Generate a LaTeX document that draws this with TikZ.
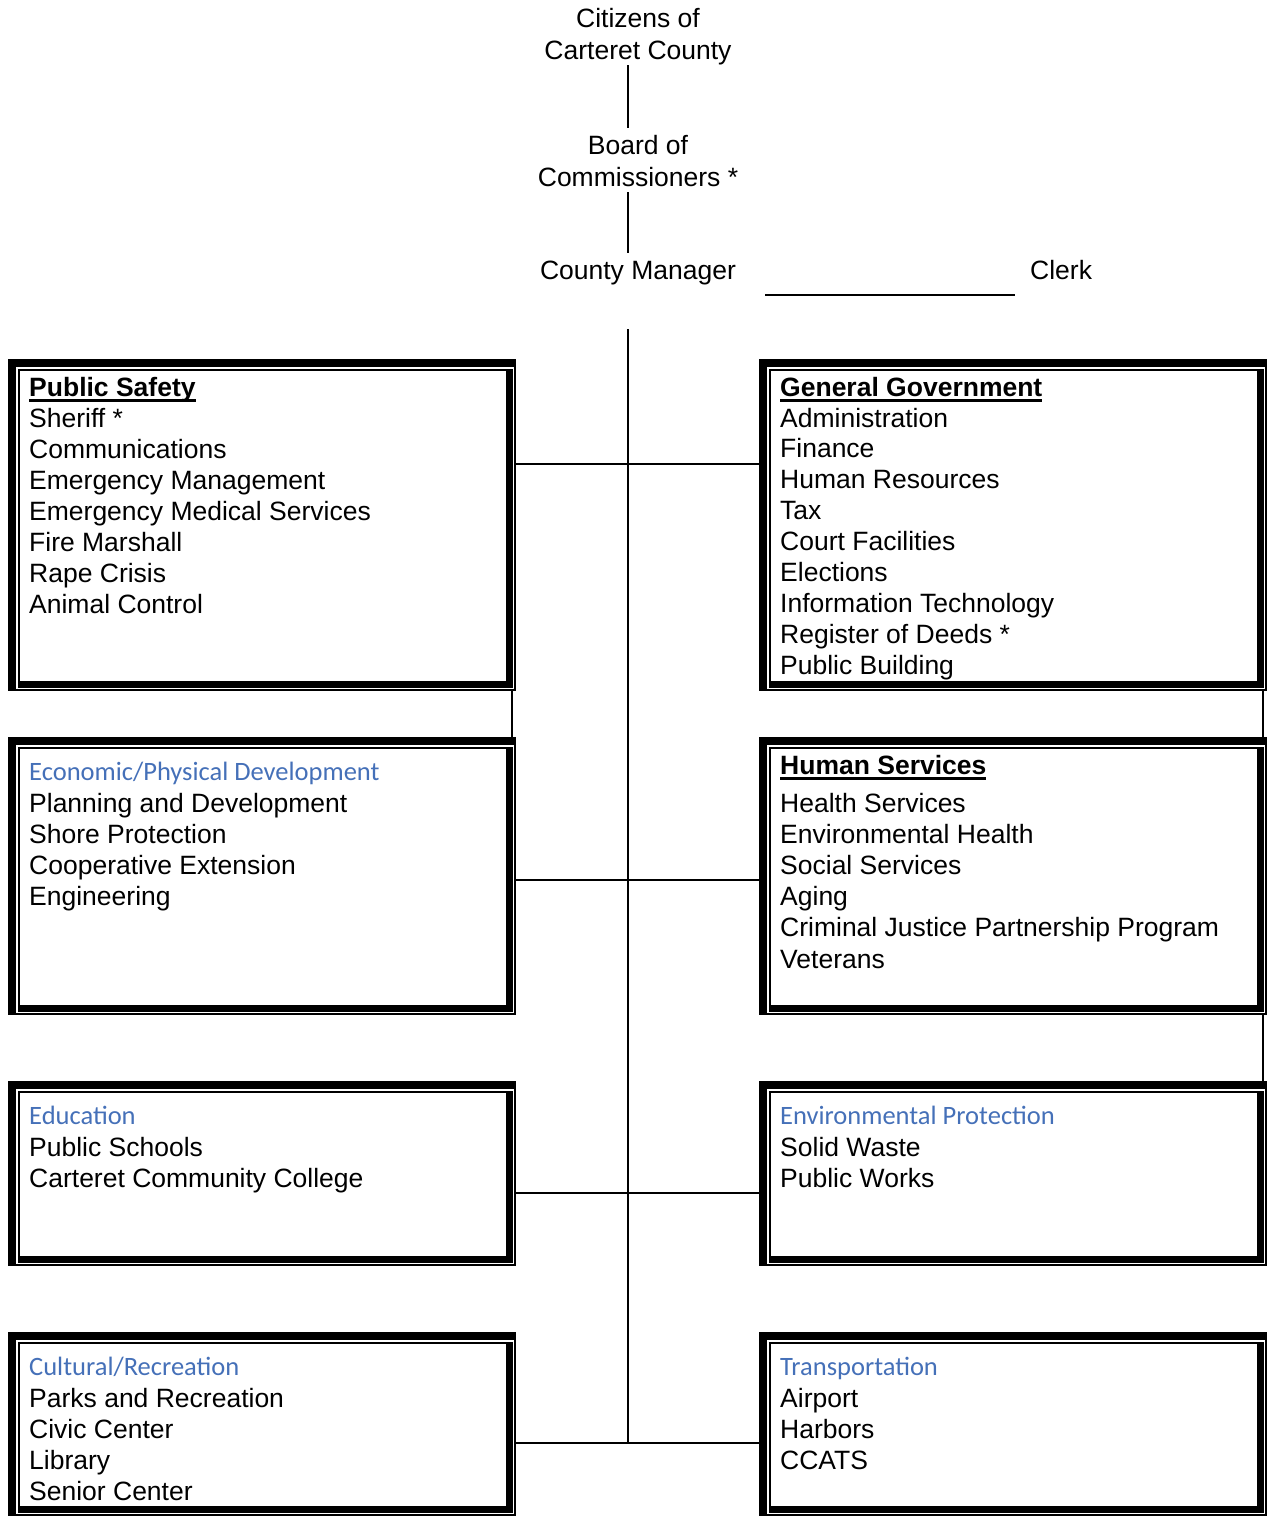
\documentclass[tikz,border=0pt]{standalone}
\usepackage{fontspec}
\setmainfont{Liberation Sans}
\newfontfamily\headfont{Carlito}
\definecolor{headblue}{HTML}{4570B8}
\newlength\ulwidth
\newcommand\ulbold[1]{\settowidth{\ulwidth}{\bfseries #1}\rlap{\rule[-6pt]{\ulwidth}{3pt}}{\bfseries #1}}
\newcommand\itemlines[4]{%
  \foreach \t [count=\i] in {#4}{%
    \node[itemtext] (#1-\i) at ([xshift=21pt,yshift={-(#2+(\i-1)*#3)}]#1.north west) {\t};
  }}
\tikzset{
  itemtext/.style={font=\fontsize{26.5}{31}\selectfont, inner sep=0pt, anchor=base west},
  headtext/.style={font=\headfont\fontsize{26.5}{31}\selectfont, text=headblue, inner sep=0pt, anchor=base west},
  toptext/.style={font=\fontsize{26.5}{31}\selectfont, inner sep=0pt, anchor=base, text height=19pt, text depth=6pt},
  link/.style={line width=2pt, black},
  orgbox/.style={rectangle, inner sep=0pt, minimum width=508pt, minimum height=#1, anchor=north west,
    path picture={
      \fill (path picture bounding box.north west) rectangle ([yshift=-8pt]path picture bounding box.north east);
      \fill (path picture bounding box.north west) rectangle ([xshift=8pt]path picture bounding box.south west);
      \fill ([xshift=-2pt]path picture bounding box.north east) rectangle (path picture bounding box.south east);
      \fill ([yshift=2pt]path picture bounding box.south west) rectangle (path picture bounding box.south east);
      \fill ([xshift=10pt,yshift=-10pt]path picture bounding box.north west) rectangle ([xshift=-10pt,yshift=-12pt]path picture bounding box.north east);
      \fill ([xshift=10pt,yshift=-10pt]path picture bounding box.north west) rectangle ([xshift=12pt,yshift=3pt]path picture bounding box.south west);
      \fill ([xshift=10pt,yshift=3pt]path picture bounding box.south west) rectangle ([xshift=-3pt,yshift=10pt]path picture bounding box.south east);
      \fill ([xshift=-10pt,yshift=-10pt]path picture bounding box.north east) rectangle ([xshift=-3pt,yshift=3pt]path picture bounding box.south east);
    }},
}
\begin{document}
\begin{tikzpicture}[x=1pt,y=-1pt]
\useasboundingbox (0,0) rectangle (1267,1516);
% top of hierarchy
\node[toptext] (cit1) at (638,27) {Citizens of};
\node[toptext] (cit2) at (638,59) {Carteret County};
\node[toptext] (board1) at (638,154) {Board of};
\node[toptext] (board2) at (638,186) {Commissioners *};
\node[toptext] (mgr) at (638,279) {County Manager};
\node[itemtext] (clerk) at (1030,279) {Clerk};
\coordinate (spine) at (628,0);
\coordinate (spinetop) at (628,329);
\coordinate (spinebot) at (628,1443);
\coordinate (clerkA) at (765,295);
\coordinate (clerkB) at (1015,295);
\draw[link] (cit2.south -| spine) -- ([yshift=7pt]board1.north -| spine);
\draw[link] (board2.south -| spine) -- ([yshift=7pt]mgr.north -| spine);
\draw[link] (clerkA) -- (clerkB);
\draw[link] (spinetop) -- (spinebot);
% boxes
\node[orgbox=332pt] (ps) at (8,359) {};
\node[orgbox=332pt] (gg) at (759,359) {};
\node[orgbox=278pt] (ed) at (8,737) {};
\node[orgbox=278pt] (hs) at (759,737) {};
\node[orgbox=185pt] (edu) at (8,1081) {};
\node[orgbox=185pt] (ep) at (759,1081) {};
\node[orgbox=184pt] (cr) at (8,1332) {};
\node[orgbox=184pt] (tr) at (759,1332) {};
% connectors
\draw[link] ([yshift=-105pt]ps.north east) -- ([yshift=-105pt]gg.north west);
\draw[link] ([yshift=-143pt]ed.north east) -- ([yshift=-143pt]hs.north west);
\draw[link] ([yshift=-112pt]edu.north east) -- ([yshift=-112pt]ep.north west);
\draw[link] ([yshift=-111pt]cr.north east) -- ([yshift=-111pt]tr.north west);
\draw[link] ([xshift=-4pt]ps.south east) -- ([xshift=-4pt]ed.north east);
\draw[link] ([xshift=-4pt]gg.south east) -- ([xshift=-4pt]hs.north east);
\draw[link] ([xshift=-4pt]hs.south east) -- ([xshift=-4pt]ep.north east);
% titles
\node[itemtext] (ps-t) at ([xshift=21pt,yshift=-37pt]ps.north west) {\ulbold{Public Safety}};
\node[itemtext] (gg-t) at ([xshift=21pt,yshift=-37pt]gg.north west) {\ulbold{General Government}};
\node[itemtext] (hs-t) at ([xshift=21pt,yshift=-37pt]hs.north west) {\ulbold{Human Services}};
\node[headtext] (ed-t) at ([xshift=21pt,yshift=-43pt]ed.north west) {Economic/Physical Development};
\node[headtext] (edu-t) at ([xshift=21pt,yshift=-43pt]edu.north west) {Education};
\node[headtext] (ep-t) at ([xshift=21pt,yshift=-43pt]ep.north west) {Environmental Protection};
\node[headtext] (cr-t) at ([xshift=21pt,yshift=-43pt]cr.north west) {Cultural/Recreation};
\node[headtext] (tr-t) at ([xshift=21pt,yshift=-43pt]tr.north west) {Transportation};
% items
\itemlines{ps}{68}{31}{Sheriff *,Communications,Emergency Management,Emergency Medical Services,Fire Marshall,Rape Crisis,Animal Control}
\itemlines{gg}{68}{30.9}{Administration,Finance,Human Resources,Tax,Court Facilities,Elections,Information Technology,Register of Deeds  *,Public Building}
\itemlines{ed}{75}{31.3}{Planning and Development,Shore Protection,Cooperative Extension,Engineering}
\itemlines{hs}{75}{31.2}{Health Services,Environmental Health,Social Services,Aging,Criminal Justice Partnership Program,Veterans}
\itemlines{edu}{75}{31}{Public Schools,Carteret Community College}
\itemlines{ep}{75}{31}{Solid Waste,Public Works}
\itemlines{cr}{75}{31}{Parks and Recreation,Civic Center,Library,Senior Center}
\itemlines{tr}{75}{31}{Airport,Harbors,CCATS}
\end{tikzpicture}
\end{document}
